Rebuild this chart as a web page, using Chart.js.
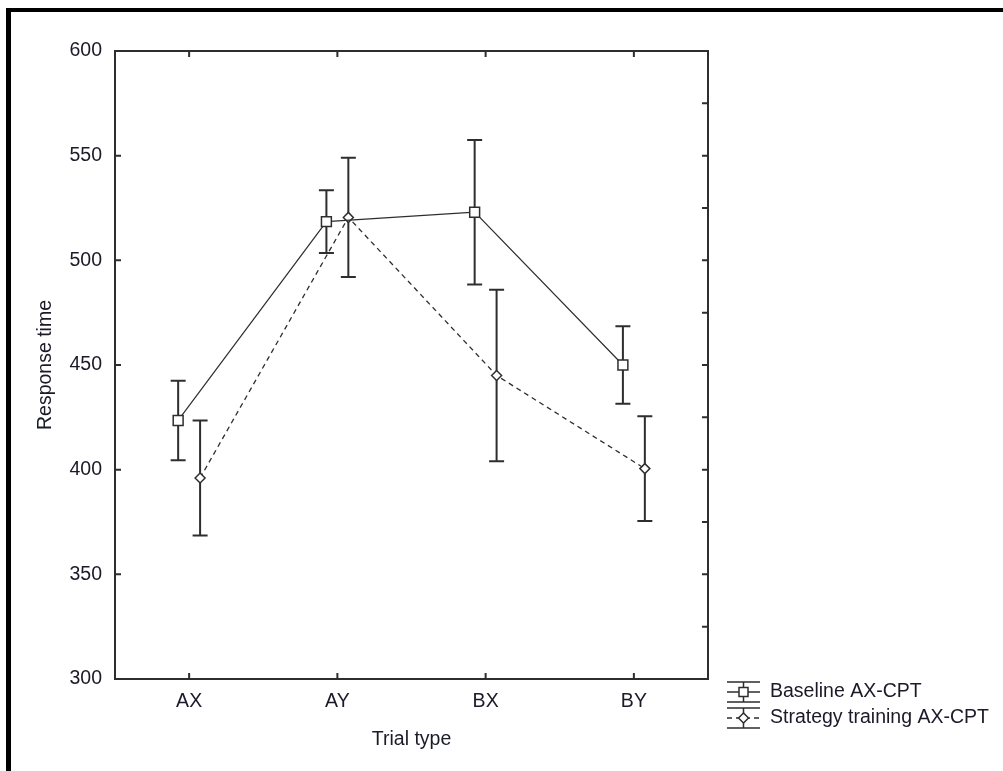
<!DOCTYPE html>
<html>
<head>
<meta charset="utf-8">
<script src="https://cdn.jsdelivr.net/npm/chart.js@4.4.1/dist/chart.umd.min.js"></script>
<style>
    html, body { margin: 0; padding: 0; background: #fff; overflow: hidden; }
    #wrap { position: relative; width: 1003px; height: 771px; }
    #frame {
        position: absolute; left: 6px; top: 8px; right: 0; bottom: 0;
        border-left: 5px solid #000; border-top: 4px solid #000;
        pointer-events: none;
    }
</style>
</head>
<body>
<div id="wrap">
    <canvas id="chart"></canvas>
    <div id="frame"></div>
</div>
<script>
// Datos
const categories = ['AX', 'AY', 'BX', 'BY'];
const seriesNames = ['Baseline AX-CPT', 'Strategy training AX-CPT'];
const baselineMeans = [423.5, 518.5, 523, 450];
const baselineErr = [19, 15, 34.5, 18.5];
const strategyMeans = [396, 520.5, 445, 400.5];
const strategyErr = [27.5, 28.5, 41, 25];
const yTicks = [300, 350, 400, 450, 500, 550, 600];

const INK = '#2e2e2e';
const TEXT = '#1a1a28';
const FONT = { family: '"Liberation Sans", Arial, sans-serif', size: 19.5 };
const SHIFT = 0.074; // desplazamiento horizontal de cada serie dentro de la categoría

// Barras de error (debajo de líneas y marcadores)
const errorBars = {
    id: 'errorBars',
    beforeDatasetsDraw(chart) {
        const ctx = chart.ctx;
        const y = chart.scales.y;
        chart.data.datasets.forEach((ds, di) => {
            const meta = chart.getDatasetMeta(di);
            ctx.save();
            ctx.strokeStyle = INK;
            ctx.lineWidth = 2;
            meta.data.forEach((pt, i) => {
                const m = ds.data[i].y, e = ds.errors[i];
                const top = y.getPixelForValue(m + e);
                const bot = y.getPixelForValue(m - e);
                ctx.beginPath();
                ctx.moveTo(pt.x, top); ctx.lineTo(pt.x, bot);
                ctx.moveTo(pt.x - 7.5, top); ctx.lineTo(pt.x + 7.5, top);
                ctx.moveTo(pt.x - 7.5, bot); ctx.lineTo(pt.x + 7.5, bot);
                ctx.stroke();
            });
            ctx.restore();
        });
    }
};

// Marco del área de trazado con marcas hacia dentro
const plotFrame = {
    id: 'plotFrame',
    beforeDatasetsDraw(chart) {
        const { ctx, chartArea: a, scales: { x, y } } = chart;
        ctx.save();
        ctx.strokeStyle = INK;
        ctx.lineWidth = 2;
        ctx.strokeRect(a.left, a.top, a.right - a.left, a.bottom - a.top);
        ctx.beginPath();
        categories.forEach((c, i) => {
            const px = x.getPixelForValue(i);
            ctx.moveTo(px, a.bottom); ctx.lineTo(px, a.bottom - 6);
            ctx.moveTo(px, a.top); ctx.lineTo(px, a.top + 6);
        });
        yTicks.forEach(v => {
            const py = y.getPixelForValue(v);
            ctx.moveTo(a.left, py); ctx.lineTo(a.left + 6, py);
        });
        for (let v = y.min + 25; v < y.max; v += 25) {
            const py = y.getPixelForValue(v);
            ctx.moveTo(a.right, py); ctx.lineTo(a.right - 6, py);
        }
        ctx.stroke();
        ctx.restore();
    }
};

// Leyenda dibujada a mano (símbolo con barra de error)
const legendBox = {
    id: 'legendBox',
    afterDraw(chart) {
        const ctx = chart.ctx;
        const a = chart.chartArea;
        const x0 = a.right + 19, w = 33, cx = x0 + w / 2;
        chart.data.datasets.forEach((ds, i) => {
            const cy = a.bottom + 13 + i * 26;
            ctx.save();
            ctx.strokeStyle = INK;
            ctx.lineWidth = 1.5;
            ctx.beginPath();
            ctx.moveTo(x0, cy - 10); ctx.lineTo(x0 + w, cy - 10);
            ctx.moveTo(x0, cy + 10); ctx.lineTo(x0 + w, cy + 10);
            ctx.moveTo(cx, cy - 10); ctx.lineTo(cx, cy + 10);
            ctx.stroke();
            ctx.beginPath();
            ctx.setLineDash(ds.borderDash || []);
            ctx.moveTo(x0, cy); ctx.lineTo(x0 + w, cy);
            ctx.stroke();
            ctx.setLineDash([]);
            ctx.fillStyle = '#fff';
            ctx.beginPath();
            if (ds.pointStyle === 'rect') {
                ctx.rect(cx - 4.5, cy - 4.5, 9, 9);
            } else {
                ctx.moveTo(cx, cy - 5); ctx.lineTo(cx + 5, cy);
                ctx.lineTo(cx, cy + 5); ctx.lineTo(cx - 5, cy);
                ctx.closePath();
            }
            ctx.fill();
            ctx.stroke();
            ctx.fillStyle = TEXT;
            ctx.font = FONT.size + 'px ' + FONT.family;
            ctx.textBaseline = 'middle';
            ctx.textAlign = 'left';
            ctx.fillText(ds.label, x0 + 43, cy);
            ctx.restore();
        });
    }
};

const ctx = document.getElementById('chart').getContext('2d');
new Chart(ctx, {
    type: 'line',
    data: {
        datasets: [
            {
                label: seriesNames[0],
                data: baselineMeans.map((v, i) => ({ x: i - SHIFT, y: v })),
                errors: baselineErr,
                borderColor: INK,
                borderWidth: 1.2,
                pointStyle: 'rect',
                pointRadius: 7,
                pointBackgroundColor: '#fff',
                pointBorderColor: INK,
                pointBorderWidth: 1.5,
                tension: 0
            },
            {
                label: seriesNames[1],
                data: strategyMeans.map((v, i) => ({ x: i + SHIFT, y: v })),
                errors: strategyErr,
                borderColor: INK,
                borderWidth: 1.3,
                borderDash: [5, 4],
                pointStyle: 'rectRot',
                pointRadius: 5,
                pointBackgroundColor: '#fff',
                pointBorderColor: INK,
                pointBorderWidth: 1.5,
                tension: 0
            }
        ]
    },
    options: {
        responsive: true,
        maintainAspectRatio: false,
        animation: false,
        layout: { padding: { top: 51, right: 295, left: 0, bottom: 0 } },
        plugins: {
            legend: { display: false },
            tooltip: { enabled: false }
        },
        scales: {
            x: {
                type: 'linear',
                min: -0.5,
                max: 3.5,
                grid: { display: false, drawTicks: false },
                border: { display: false },
                afterBuildTicks: s => { s.ticks = categories.map((c, i) => ({ value: i })); },
                afterFit: s => { s.height = 92; },
                ticks: {
                    callback: v => categories[v] ?? '',
                    font: FONT, color: TEXT, padding: 11,
                    maxRotation: 0, autoSkip: false
                },
                title: {
                    display: true, text: 'Trial type',
                    font: FONT, color: TEXT,
                    padding: { top: 0, bottom: 20 }
                }
            },
            y: {
                min: 300,
                max: 600,
                grid: { display: false, drawTicks: false },
                border: { display: false },
                afterBuildTicks: s => { s.ticks = yTicks.map(v => ({ value: v })); },
                afterFit: s => { s.width = 115; },
                ticks: { font: FONT, color: TEXT, padding: 13 },
                title: {
                    display: true, text: 'Response time',
                    font: FONT, color: TEXT,
                    padding: { top: 34, bottom: 0 }
                }
            }
        }
    },
    plugins: [errorBars, plotFrame, legendBox]
});
</script>
</body>
</html>
